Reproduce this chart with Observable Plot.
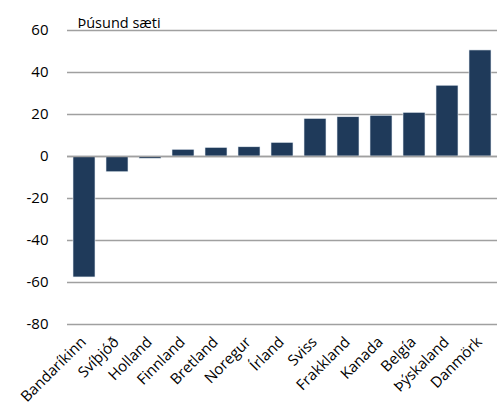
<!DOCTYPE html>
<html><head><meta charset="utf-8">
<script src="https://cdn.jsdelivr.net/npm/d3@7"></script>
<script src="https://cdn.jsdelivr.net/npm/@observablehq/plot@0.6"></script>
<style>body{margin:0;background:#fff;font-family:"Open Sans",sans-serif}</style>
</head><body><div id="chart"></div>
<script>
const countries = ["Bandaríkinn","Svíþjóð","Holland","Finnland","Bretland","Noregur","Írland","Sviss","Frakkland","Kanada","Belgía","Þýskaland","Danmörk"];
const values = [-57.6,-7.5,-1.1,3.2,4.1,4.4,6.5,17.9,18.7,19.4,20.8,33.7,50.5];
const yTicks = [-80,-60,-40,-20,0,20,40,60];
const unitLabel = "Þúsund sæti";
const data = countries.map((c,i)=>({country:c,value:values[i]}));
const chart = Plot.plot({
  width: 499, height: 412,
  marginLeft: 67, marginRight: 2, marginTop: 30, marginBottom: 88,
  style: {fontFamily: "Open Sans, sans-serif", fontSize: "15px", color: "#000"},
  x: {domain: countries, paddingInner: 0.33, paddingOuter: 0.15, label: null},
  y: {domain: [-80,60], ticks: yTicks, label: null},
  marks: [
    Plot.ruleY(yTicks, {stroke: "#a0a0a0", strokeWidth: 1.6}),
    Plot.barY(data, {x: "country", y: "value", fill: "#1f3a5a", stroke: "#e8eef4", strokeWidth: 0.6}),
    Plot.ruleY([0], {stroke: "#a0a0a0", strokeWidth: 1.6}),
    Plot.axisY({ticks: yTicks, tickSize: 0, tickPadding: 19, fontSize: 15, tickFormat: d => String(d)}),
    Plot.axisX({tickSize: 0, tickRotate: -45, tickPadding: 2, dx: -1, dy: 13, fontSize: 15}),
    Plot.text([unitLabel], {text: d=>d, frameAnchor: "top-left", textAnchor: "start", dx: 10, dy: -13, fontSize: 14.5})
  ]
});
document.getElementById("chart").append(chart);
</script></body></html>
